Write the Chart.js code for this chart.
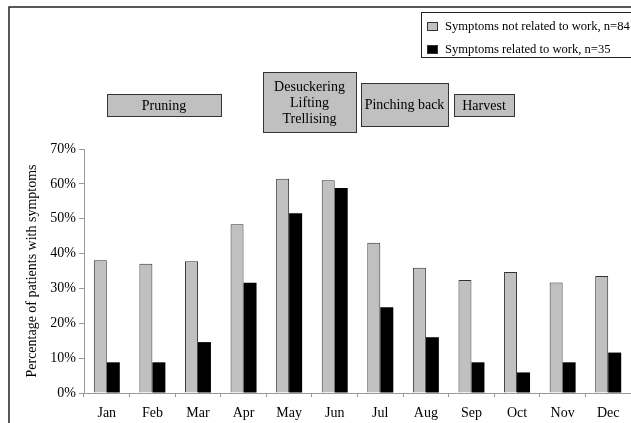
<!DOCTYPE html>
<html>
<head>
<meta charset="utf-8">
<script src="https://cdn.jsdelivr.net/npm/chart.js@4"></script>
<style>
  html,body{margin:0;padding:0;background:#fff}
  #wrap{width:631px;height:423px;position:relative}
</style>
</head>
<body>
<div id="wrap"><canvas id="c" width="631" height="423"></canvas></div>
<script>
// data
const months=['Jan','Feb','Mar','Apr','May','Jun','Jul','Aug','Sep','Oct','Nov','Dec'];
const notWork=[38.1,37.1,37.8,48.4,61.5,61.0,43.1,35.9,32.4,34.7,31.7,33.6];
const work=[8.8,8.8,14.6,31.6,51.6,58.8,24.6,16.0,8.8,5.9,8.8,11.6];
const seriesNames=['Symptoms not related to work, n=84','Symptoms related to work, n=35'];
const yTicks=[0,10,20,30,40,50,60,70];
const phases=[['Pruning'],['Desuckering','Lifting','Trellising'],['Pinching back'],['Harvest']];

const FONT='"Liberation Serif","Times New Roman",serif';
const GREY='#c0c0c0';

// --- frame, legend and work phase boxes
const deco={
  id:'deco',
  beforeDraw(ch){
    const c=ch.ctx; c.save();
    c.strokeStyle='#222'; c.lineWidth=1.5;
    c.beginPath(); c.moveTo(9,423); c.lineTo(9,7); c.lineTo(631,7); c.stroke();
    c.restore();
  },
  afterDraw(ch){
    const c=ch.ctx; c.save();
    // legend
    c.fillStyle='#fff'; c.strokeStyle='#222'; c.lineWidth=1;
    c.fillRect(421.5,12.5,215,45); c.strokeRect(421.5,12.5,215,45);
    c.font='12.6px '+FONT; c.textBaseline='middle'; c.textAlign='left';
    const sw=[GREY,'#000'], sy=[22.5,45.5];
    seriesNames.forEach((n,i)=>{
      c.fillStyle=sw[i]; c.fillRect(427.5,sy[i],10,8);
      c.strokeStyle='#333'; c.strokeRect(427.5,sy[i],10,8);
      c.fillStyle='#000'; c.fillText(n,445,sy[i]+4);
    });
    // phase boxes
    const boxes=[[107,94,114,22],[263,72,93,60],[361,83,87,43],[454,94,60,22]];
    c.font='14px '+FONT; c.textAlign='center';
    phases.forEach((lines,i)=>{
      const [x,y,w,h]=boxes[i];
      c.fillStyle=GREY; c.fillRect(x+.5,y+.5,w,h);
      c.strokeStyle='#333'; c.strokeRect(x+.5,y+.5,w,h);
      c.fillStyle='#000';
      const cy=y+h/2, lh=16;
      lines.forEach((t,j)=>c.fillText(t,x+w/2,cy+(j-(lines.length-1)/2)*lh+1));
    });
    c.restore();
  }
};

new Chart(document.getElementById('c'),{
  type:'bar',
  data:{labels:months,datasets:[
    {label:seriesNames[0],data:notWork,backgroundColor:GREY,borderColor:'#333',borderWidth:1,
     categoryPercentage:0.57,barPercentage:1},
    {label:seriesNames[1],data:work,backgroundColor:'#000',borderColor:'#000',borderWidth:0,
     categoryPercentage:0.57,barPercentage:1}
  ]},
  options:{
    responsive:false,animation:false,
    layout:{padding:{top:149,right:0,left:0,bottom:0}},
    plugins:{legend:{display:false},tooltip:{enabled:false}},
    scales:{
      x:{
        grid:{display:true,drawOnChartArea:false,drawTicks:true,tickLength:4,color:'#999',offset:true},
        border:{display:true,color:'#999',width:1},
        ticks:{color:'#000',font:{family:FONT,size:14},padding:8,maxRotation:0},
        afterFit(s){s.height=30}
      },
      y:{
        min:0,max:70,
        afterBuildTicks(s){s.ticks=yTicks.map(v=>({value:v}))},
        grid:{display:true,drawOnChartArea:false,drawTicks:true,tickLength:5,color:'#999'},
        border:{display:true,color:'#999',width:1},
        ticks:{color:'#000',font:{family:FONT,size:14},padding:3,callback:v=>v+'%'},
        title:{display:true,text:'Percentage of patients with symptoms',color:'#000',
               font:{family:FONT,size:14},padding:{top:24,bottom:0}},
        afterFit(s){s.width=84}
      }
    }
  },
  plugins:[deco]
});
</script>
</body>
</html>
